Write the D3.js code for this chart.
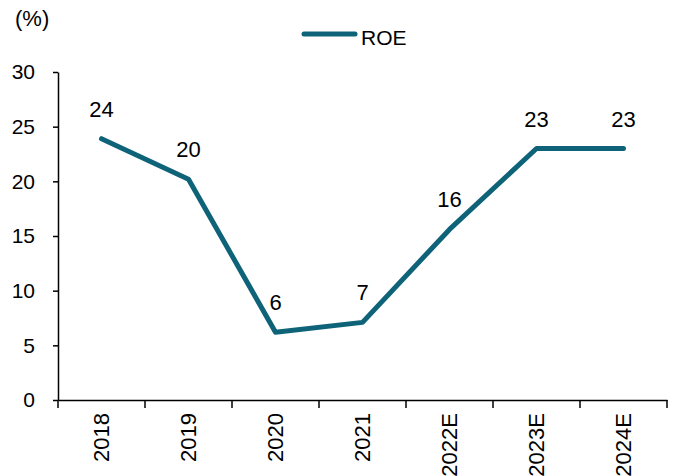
<!DOCTYPE html>
<html>
<head>
<meta charset="utf-8">
<script src="https://d3js.org/d3.v7.min.js"></script>
<style>
body { margin: 0; background: #fff; }
text { font-family: Arial, "Liberation Sans", sans-serif; fill: #000; }
</style>
</head>
<body>
<script>
// chart data
var years = ["2018", "2019", "2020", "2021", "2022E", "2023E", "2024E"];
var roe = [23.9, 20.2, 6.2, 7.1, 15.6, 23.0, 23.0];
var roeLabels = ["24", "20", "6", "7", "16", "23", "23"];
var yTicks = [0, 5, 10, 15, 20, 25, 30];

var width = 673, height = 476;
var margin = {left: 58, right: 6, top: 72, bottom: 76};
var lineColor = "#0f6379";
var fs = "21px";
var fsBig = "22px";

var svg = d3.select("body").append("svg")
    .attr("width", width)
    .attr("height", height);

var x = d3.scaleBand()
    .domain(years)
    .range([margin.left, width - margin.right]);

var y = d3.scaleLinear()
    .domain([0, 30])
    .range([height - margin.bottom, margin.top]);

// y axis
var yAxis = svg.append("g")
    .attr("transform", "translate(" + margin.left + ",0)")
    .call(d3.axisLeft(y).tickValues(yTicks).tickSize(5).tickSizeOuter(0).tickPadding(18));
yAxis.select(".domain").attr("stroke", "#000").attr("stroke-width", 1.5);
yAxis.selectAll(".tick line").attr("stroke", "#000").attr("stroke-width", 1.5);
yAxis.selectAll("text").style("font-size", fs).attr("font-family", null);

// x axis
var xAxis = svg.append("g")
    .attr("transform", "translate(0," + y(0) + ")")
    .call(d3.axisBottom(x).tickSize(0).tickPadding(0));
xAxis.select(".domain").attr("stroke", "#000").attr("stroke-width", 1.5);
xAxis.selectAll(".tick text")
    .style("font-size", fsBig)
    .attr("font-family", null)
    .attr("transform", "rotate(-90)")
    .attr("text-anchor", "end")
    .attr("dy", "0.35em")
    .attr("x", -13)
    .attr("y", 0);

// category boundary ticks
var bounds = years.map(function(d) { return x(d); }).concat([x.range()[1]]);
svg.append("g").selectAll("line")
    .data(bounds)
    .enter().append("line")
    .attr("x1", function(d) { return d; })
    .attr("x2", function(d) { return d; })
    .attr("y1", y(0))
    .attr("y2", y(0) + 8)
    .attr("stroke", "#000")
    .attr("stroke-width", 1.5);

// line
var line = d3.line()
    .x(function(d, i) { return x(years[i]) + x.bandwidth() / 2; })
    .y(function(d) { return y(d); });

svg.append("path")
    .datum(roe)
    .attr("d", line)
    .attr("fill", "none")
    .attr("stroke", lineColor)
    .attr("stroke-width", 5)
    .attr("stroke-linejoin", "round")
    .attr("stroke-linecap", "round");

// data labels
svg.append("g").selectAll("text")
    .data(roe)
    .enter().append("text")
    .attr("x", function(d, i) { return x(years[i]) + x.bandwidth() / 2; })
    .attr("y", function(d) { return y(d) - 22; })
    .attr("text-anchor", "middle")
    .style("font-size", fsBig)
    .text(function(d, i) { return roeLabels[i]; });

// unit label
svg.append("text")
    .attr("x", 15)
    .attr("y", 26)
    .style("font-size", fsBig)
    .text("(%)");

// legend
svg.append("line")
    .attr("x1", 304).attr("x2", 355)
    .attr("y1", 34).attr("y2", 34)
    .attr("stroke", lineColor)
    .attr("stroke-width", 5)
    .attr("stroke-linecap", "round");
svg.append("text")
    .attr("x", 361)
    .attr("y", 45)
    .style("font-size", fs)
    .text("ROE");
</script>
</body>
</html>
